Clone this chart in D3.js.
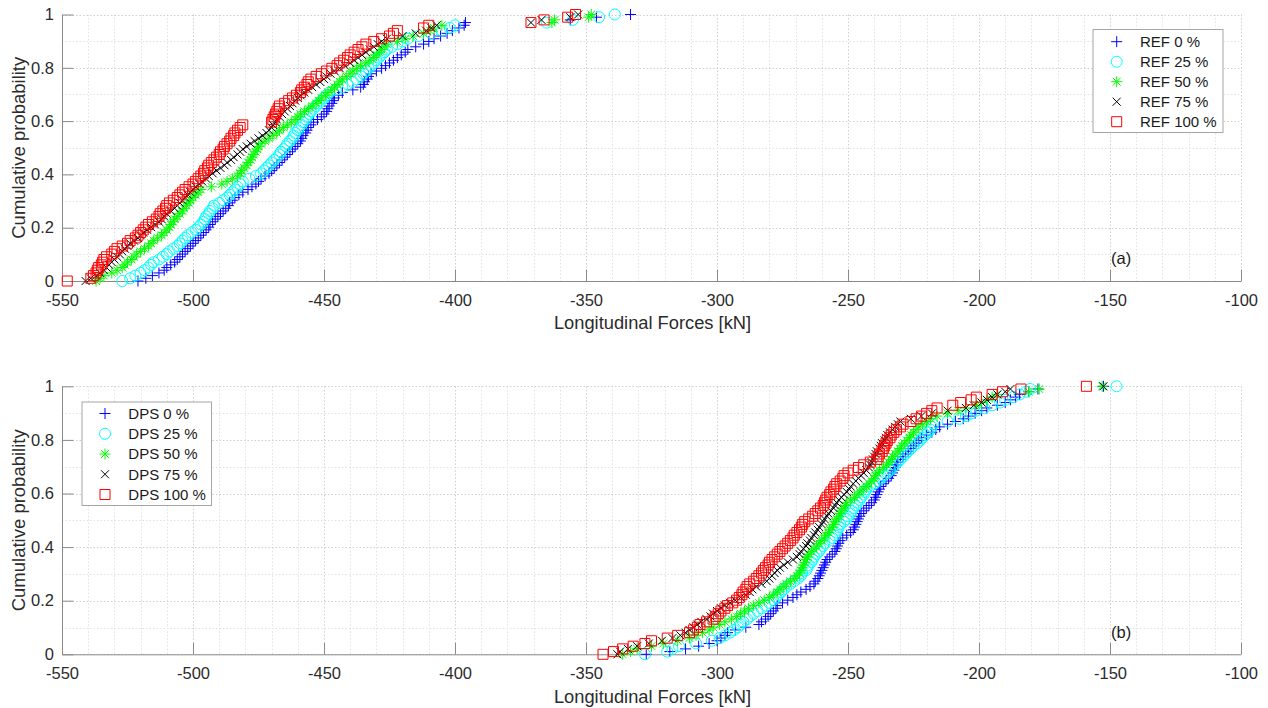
<!DOCTYPE html>
<html><head><meta charset="utf-8">
<script src="https://cdn.jsdelivr.net/npm/d3@7"></script>
<style>
html,body{margin:0;padding:0;background:#fff;}
svg{display:block;font-family:"Liberation Sans",Arial,Helvetica,sans-serif;}
</style></head><body>
<svg id="chart" width="1268" height="708"></svg>
<script>
// ---------------- DATA ----------------
const xTicks = [-550,-500,-450,-400,-350,-300,-250,-200,-150,-100];
const yTicks = [0,0.2,0.4,0.6,0.8,1];
const xLabel = "Longitudinal Forces [kN]";
const yLabel = "Cumulative probability";
const panelTags = ["(a)","(b)"];
const refNames = ["REF 0 %","REF 25 %","REF 50 %","REF 75 %","REF 100 %"];
const dpsNames = ["DPS 0 %","DPS 25 %","DPS 50 %","DPS 75 %","DPS 100 %"];

// sorted samples (kN); cumulative probability = rank/(n-1)
const ref0 = [-521,-518,-515.5,-513,-511,-510,-508.5,-507,-506,-505,-504,-503,-502,-501,-500,-499,-498,-497,-496,-495,
-494,-493.5,-492.5,-491.5,-490.5,-489.5,-488.5,-487.5,-486.5,-486,-485,-484,-482.5,-481,-479,-477.5,-476,-475,-474,-472.5,
-471,-470,-469,-468,-467,-466,-465,-464,-463,-462,-461,-460,-459,-458.5,-458,-457,-456.5,-456,-455,-454,
-452.5,-451,-450,-449,-448.5,-448,-447,-446.5,-446,-444.5,-443,-439,-436,-435,-434.5,-433.5,-433,-432,-430,-428,
-426.5,-425,-423.5,-422,-420.5,-419,-418,-415,-412,-410,-408,-405.5,-403,-401,-398.5,-396.5,-396,-356,-346,-333];
const ref25 = [-527,-524,-522,-520,-518.5,-517,-516,-515,-513,-511.5,-510,-509,-507.5,-506,-505,-504,-503,-502,-500.5,-499,
-498,-497,-496,-495.5,-495,-494,-493.5,-492.5,-492,-490,-488.5,-487,-486,-485,-484,-483,-482,-481,-478.5,-476,
-474,-473,-472,-471,-470,-469,-468,-467,-466.5,-465.5,-464.5,-464,-463,-462,-461.5,-461,-460,-459.5,-458.5,-458,
-457,-456.5,-455.5,-455,-454,-453,-452,-451,-450,-449,-448,-445.5,-443,-441,-439,-437.5,-436,-435,-434,-433,
-432,-431,-430,-429,-428,-427,-426,-424,-422,-420,-418,-414,-409,-405,-402,-400,-365,-355,-345,-339];
const ref50 = [-537,-535.5,-534,-531,-529,-527,-526,-525,-523.5,-522.5,-521.5,-520,-518.5,-517,-516,-515,-513.5,-512,-511,-510,
-509,-508.5,-507.5,-507,-506,-505,-504,-503.5,-502.5,-501.5,-501,-500,-499,-498,-497,-493,-489,-487,-485,-483,
-482,-481.5,-480.5,-479.5,-479,-478,-477.5,-477,-476,-475.5,-475,-474,-472.5,-471,-469.5,-468,-467,-465.5,-464,-462.5,
-461,-460,-459,-457.5,-456,-454.5,-453,-452,-451,-449.5,-448.5,-447,-446,-445,-444,-443,-441.5,-440,-439,-437.5,
-436,-434,-432.5,-431,-430,-429,-428,-427,-426,-422,-419,-416,-412,-409.5,-408,-405,-363,-362,-349,-348];
const ref75 = [-541,-539,-537,-535.5,-534,-533,-532,-531,-530,-529,-528,-527,-526,-525,-524,-522.5,-521,-520,-519,-517.5,
-516,-514.5,-513,-512,-511,-510,-508.5,-507,-506,-505,-504,-503,-502,-501,-500,-499,-497.5,-496.5,-495,-494,
-492.5,-491,-489.5,-488,-487,-485.5,-484.5,-483,-482,-481,-479.5,-478,-476.5,-475,-473.5,-472,-471,-470,-469.5,-468.5,
-468,-467,-466,-465,-464,-463,-462,-461,-460,-459,-457.5,-456,-454.5,-453,-451.5,-450,-449,-447.5,-446,-444,
-442,-440,-438.5,-437,-435.5,-434,-432.5,-431,-429.5,-428,-426,-420,-415,-411,-409,-407,-371,-367,-356,-353];
const ref100 = [-548,-539,-538,-537,-536.5,-536,-535,-534.5,-534,-533,-531,-530,-529,-527,-525,-524,-522,-521,-520,-519,
-518,-517,-515.5,-514,-513,-512.5,-511.5,-510.5,-510,-509,-507.5,-506,-505,-504,-503,-501.5,-500,-499,-498,-497,
-496,-495.5,-494.5,-494,-493,-492,-491,-490,-489.5,-488.5,-488,-487,-486,-485.5,-484.5,-484,-483,-482,-481,-470,
-469.5,-469,-468.5,-468,-467.5,-467,-465,-463.5,-462,-460.5,-459,-458.5,-457.5,-456.5,-456,-455,-453,-451,-449,-447,
-445,-444,-442.5,-441,-440,-438.5,-437,-435.5,-434,-431,-428,-425,-423.5,-422,-412,-410,-371,-366,-357,-354];

const dps0 = [-327,-318,-312,-307,-303,-300,-298.5,-297,-296,-293,-289,-284,-283,-281.5,-280.5,-279.5,-278.5,-277.5,-277,-275,
-273,-271,-269.5,-268,-266,-264.5,-263,-262.5,-261.5,-261,-260.5,-260,-259.5,-259,-258.5,-258,-257,-256,-255,-254.5,
-254,-253.5,-253,-252,-250.5,-249,-248,-247.5,-247,-246.5,-246,-245.5,-245,-244,-243,-242,-241,-240,-239.5,-239,
-238.5,-238,-237.5,-236.5,-235.5,-234.5,-233.5,-233,-232.5,-232,-231.5,-231,-230,-229,-228,-227,-226,-225,-224,-223,
-222,-220,-218,-216.5,-215,-212,-209,-206,-204,-201.5,-199,-197,-193,-190,-188,-186,-184.5,-181,-177.5,-152.5];
const dps25 = [-327.5,-319,-317,-314.5,-308,-302,-299,-297,-295,-293.5,-292,-291,-290,-288.5,-287.5,-286,-284.5,-283,-281.5,-280,
-278.5,-277.5,-276.5,-275.5,-274.5,-273.5,-272,-270.5,-269,-268,-267.5,-266,-265.5,-265,-264,-263.5,-263,-262,-261,-260.5,
-259.5,-259,-257,-256,-255,-254.5,-254,-253.5,-253,-251.5,-250.5,-250,-249,-248.5,-248,-247,-246.5,-245.5,-245,-244,
-243.5,-243,-241.5,-240,-238.5,-237.5,-236.5,-235,-234,-233,-232,-231,-230,-229,-228,-227,-226,-225,-223.5,-222.5,
-221.5,-220.5,-219.5,-218.5,-218,-217.5,-212,-207.5,-205,-203,-201,-198,-195,-192,-190,-187,-184.5,-182,-180.5,-147.5];
const dps50 = [-336,-333,-330.5,-325,-320.5,-315,-310.5,-308,-305.5,-303,-301.5,-299,-297,-294.5,-292.5,-291,-289.5,-288,-286,-284,
-282,-280,-278.5,-277,-276,-274.5,-273.5,-272,-270.5,-269.5,-268.5,-268,-267.5,-267,-266.5,-266,-265.5,-265,-264,-263,
-262,-261,-260,-259,-258.5,-257.5,-257,-256,-255.5,-255,-254.3,-253.5,-253,-252.5,-251.5,-251,-250.5,-249,-247.5,-246.5,
-245.5,-244.2,-243,-242,-241,-240,-239.5,-239,-238,-236.5,-235.3,-234.5,-233.5,-233,-232,-231,-230.2,-229.5,-228.5,-227.5,
-226.5,-226,-225,-224,-223,-221.5,-220,-218.5,-216,-212,-208,-205,-201,-199,-197,-195,-193,-181,-177,-153];
const dps75 = [-338,-337,-334,-330.5,-326,-321,-317,-314,-312,-310.5,-309,-307.5,-306,-304,-302.5,-301.5,-300,-298.5,-297,-295,
-293,-291,-289,-287.5,-286.5,-285,-283,-281,-280,-279,-278,-277,-276,-274.5,-273,-271,-269.5,-268.5,-268,-267,
-266,-265.5,-264.5,-264,-263,-262.5,-261.5,-261,-260,-259.5,-259,-258,-257.5,-256.5,-255.5,-255,-254.3,-253.5,-252.5,-251.5,
-250.5,-249.5,-249,-248,-247,-246,-245,-244,-243,-242,-241.5,-241,-240.5,-240,-239.5,-239,-238,-237.5,-237,-236,
-235.5,-235,-234,-233,-232,-231,-230,-226,-222,-218,-212,-205,-202,-199,-197,-195,-193,-190,-188,-152.5];
const dps100 = [-343.5,-339.5,-336,-332,-327.5,-325,-319,-315,-310.5,-309,-307.5,-306.5,-304,-301.5,-300.5,-299.5,-298.5,-297,-296,-294,
-292.5,-291.5,-290.5,-290,-289,-288.5,-287.5,-286,-285,-284,-283,-282.3,-281.5,-280.5,-280,-279,-278,-277,-276,-275,
-274,-273,-272,-271,-270.5,-269.5,-268.5,-267.8,-267.3,-266.5,-265,-263.5,-262.5,-261.5,-260.5,-259.5,-259,-258.5,-258,-257,
-256.5,-255.5,-255,-254.3,-253,-252,-251.5,-250,-248,-246,-244,-241.5,-239,-238.5,-238,-237,-236.5,-236,-235.5,-235,
-234,-233.5,-232.5,-231.5,-230,-229,-226,-224,-222,-220,-218,-216,-210,-207,-203,-201,-195,-191,-184,-159];

const refSeries = [ref0, ref25, ref50, ref75, ref100];
const dpsSeries = [dps0, dps25, dps50, dps75, dps100];

// ---------------- STYLE / LAYOUT ----------------
const styles = [
  {shape:"plus",   color:"#0000ff", size:11},
  {shape:"circle", color:"#00ffff", size:11},
  {shape:"star",   color:"#00ff00", size:11},
  {shape:"cross",  color:"#000000", size:8},
  {shape:"square", color:"#ff0000", size:10}
];
const X0 = 62, X1 = 1241;
const panels = [
  {top:14.5, bottom:281, names:refNames, series:refSeries,
   legend:{x:1092.5, y:29, w:130, h:103, mx:1116.7, tx:1140, ry:41.7, dy:20},
   tag:{x:1111, y:264}},
  {top:386.3, bottom:654.3, names:dpsNames, series:dpsSeries,
   legend:{x:81.5, y:401.5, w:129.5, h:103.5, mx:105, tx:128.3, ry:413.5, dy:20.25},
   tag:{x:1111, y:638}}
];

function markerPath(shape, s){
  const h = s/2;
  switch(shape){
    case "plus": return `M${-h},0H${h}M0,${-h}V${h}`;
    case "cross": return `M${-h},${-h}L${h},${h}M${-h},${h}L${h},${-h}`;
    case "star": { const d = h*0.7071;
      return `M${-h},0H${h}M0,${-h}V${h}M${-d},${-d}L${d},${d}M${-d},${d}L${d},${-d}`; }
    case "square": return `M${-h},${-h}H${h}V${h}H${-h}Z`;
    case "circle": return d3.symbol(d3.symbolCircle, Math.PI*h*h)();
  }
}

const svg = d3.select("#chart");
const x = d3.scaleLinear().domain([-550,-100]).range([X0, X1]);
const minorX = d3.range(-550, -99, 10);
const minorY = d3.range(0, 11, 1).map(v => v/10);

panels.forEach((P, pi) => {
  const y = d3.scaleLinear().domain([0,1]).range([P.bottom, P.top]);
  const g = svg.append("g");

  // grid (minor + major), dotted
  const grid = g.append("g").attr("fill","none");
  grid.selectAll(".gx").data(minorX).join("line")
    .attr("x1", d => Math.round(x(d))+0.5).attr("x2", d => Math.round(x(d))+0.5)
    .attr("y1", P.top).attr("y2", P.bottom)
    .attr("stroke", d => xTicks.includes(d) ? "#cfcfcf" : "#e2e2e2")
    .attr("stroke-width", 1).attr("stroke-dasharray","1.5,2");
  grid.selectAll(".gy").data(minorY).join("line")
    .attr("y1", d => Math.round(y(d))+0.5).attr("y2", d => Math.round(y(d))+0.5)
    .attr("x1", X0).attr("x2", X1)
    .attr("stroke", d => yTicks.some(t => Math.abs(t-d)<1e-9) ? "#cfcfcf" : "#e2e2e2")
    .attr("stroke-width", 1).attr("stroke-dasharray","1.5,2");

  // axes
  const xAxis = d3.axisBottom(x).tickValues(xTicks).tickFormat(d => String(d))
    .tickSizeInner(-11.5).tickSizeOuter(0).tickPadding(13);
  const yAxis = d3.axisLeft(y).tickValues(yTicks).tickFormat(d => String(d))
    .tickSizeInner(-11.5).tickSizeOuter(0).tickPadding(8);
  const gx = g.append("g").attr("transform", `translate(0,${P.bottom})`).call(xAxis);
  const gy = g.append("g").attr("transform", `translate(${X0},0)`).call(yAxis);
  [gx, gy].forEach(a => {
    a.select(".domain").attr("stroke","#8a8a8a");
    a.selectAll(".tick line").attr("stroke","#8a8a8a");
    a.selectAll(".tick text").attr("fill","#2b2b2b").style("font-size","16.5px")
      .style("font-family",'"Liberation Sans",Arial,sans-serif');
  });

  // axis labels
  g.append("text").attr("x", (X0+X1)/2 + 1).attr("y", P.bottom + 48.4)
    .attr("text-anchor","middle").attr("fill","#2b2b2b").style("font-size","18.3px")
    .text(xLabel);
  g.append("text").attr("transform", `translate(24.5,${(P.top+P.bottom)/2}) rotate(-90)`)
    .attr("text-anchor","middle").attr("fill","#2b2b2b").style("font-size","18.5px")
    .text(yLabel);

  // data markers
  P.series.forEach((vals, si) => {
    const st = styles[si];
    const n = vals.length;
    const pts = vals.map((v, i) => ({v, p: i/(n-1)}));
    g.append("g").attr("fill","none").attr("stroke", st.color).attr("stroke-width", 1)
      .selectAll("path").data(pts).join("path")
      .attr("transform", d => `translate(${x(d.v)},${y(d.p)})`)
      .attr("d", markerPath(st.shape, st.size));
  });

  // legend
  const L = P.legend;
  const lg = g.append("g");
  lg.append("rect").attr("x", L.x+0.5).attr("y", L.y+0.5).attr("width", L.w).attr("height", L.h)
    .attr("fill","#fff").attr("stroke","#a6a6a6").attr("stroke-width",1);
  P.names.forEach((nm, i) => {
    const st = styles[i];
    const cy = L.ry + i*L.dy;
    lg.append("path").attr("transform", `translate(${L.mx},${cy})`)
      .attr("d", markerPath(st.shape, st.size)).attr("fill","none")
      .attr("stroke", st.color).attr("stroke-width",1);
    lg.append("text").attr("x", L.tx).attr("y", cy).attr("dy","0.36em")
      .attr("fill","#1a1a1a").style("font-size","15px").text(nm);
  });

  // panel tag
  g.append("text").attr("x", P.tag.x).attr("y", P.tag.y)
    .attr("fill","#1a1a1a").style("font-size","16.5px").text(panelTags[pi]);
});
</script>
</body></html>
